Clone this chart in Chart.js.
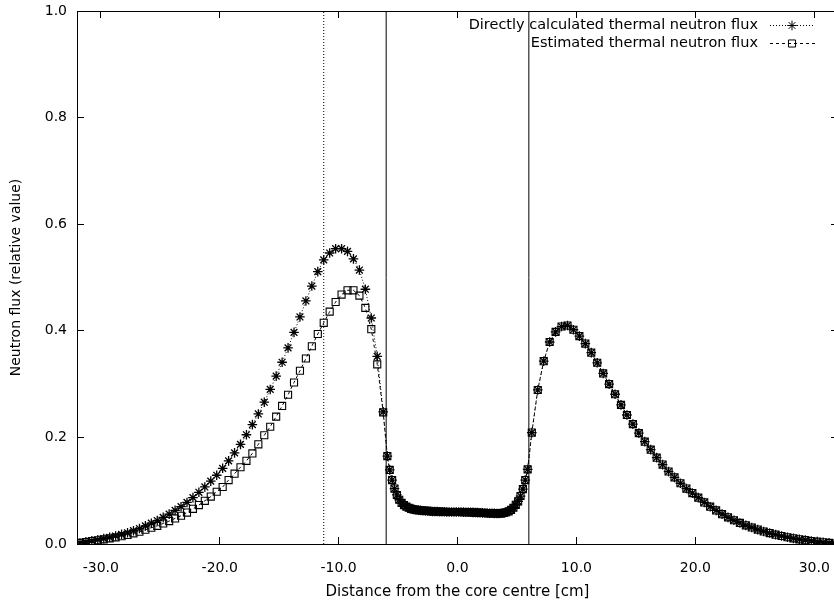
<!DOCTYPE html>
<html>
<head>
<meta charset="utf-8">
<title>Thermal neutron flux</title>
<script src="https://cdn.jsdelivr.net/npm/chart.js@4/dist/chart.umd.min.js"></script>
<style>
	html, body { margin: 0; padding: 0; background: #fff; overflow: hidden; }
	#flux-box { position: relative; width: 846px; height: 602px; }
</style>
</head>
<body>
<div id="flux-box"><canvas id="chart-flux"></canvas></div>
<script>
	// distance from the core centre [cm]: reflector left, core, reflector right
	var distanceLeft = [-31.75, -31.25, -30.75, -30.25, -29.75, -29.25, -28.75, -28.25, -27.75, -27.25,
		-26.75, -26.25, -25.75, -25.25, -24.75, -24.25, -23.75, -23.25, -22.75, -22.25,
		-21.75, -21.25, -20.75, -20.25, -19.75, -19.25, -18.75, -18.25, -17.75, -17.25,
		-16.75, -16.25, -15.75, -15.25, -14.75, -14.25, -13.75, -13.25, -12.75, -12.25,
		-11.75, -11.25, -10.75, -10.25, -9.75, -9.25, -8.75, -8.25, -7.75, -7.25, -6.75, -6.25];
	var distanceCore = [-5.9, -5.7, -5.5, -5.3, -5.1, -4.9, -4.7, -4.5, -4.3, -4.1,
		-3.9, -3.7, -3.5, -3.3, -3.1, -2.9, -2.7, -2.5, -2.3, -2.1,
		-1.9, -1.7, -1.5, -1.3, -1.1, -0.9, -0.7, -0.5, -0.3, -0.1,
		0.1, 0.3, 0.5, 0.7, 0.9, 1.1, 1.3, 1.5, 1.7, 1.9,
		2.1, 2.3, 2.5, 2.7, 2.9, 3.1, 3.3, 3.5, 3.7, 3.9,
		4.1, 4.3, 4.5, 4.7, 4.9, 5.1, 5.3, 5.5, 5.7, 5.9];
	var distanceRight = [6.25, 6.75, 7.25, 7.75, 8.25, 8.75, 9.25, 9.75, 10.25, 10.75,
		11.25, 11.75, 12.25, 12.75, 13.25, 13.75, 14.25, 14.75, 15.25, 15.75,
		16.25, 16.75, 17.25, 17.75, 18.25, 18.75, 19.25, 19.75, 20.25, 20.75,
		21.25, 21.75, 22.25, 22.75, 23.25, 23.75, 24.25, 24.75, 25.25, 25.75,
		26.25, 26.75, 27.25, 27.75, 28.25, 28.75, 29.25, 29.75, 30.25, 30.75, 31.25, 31.75];

	// left reflector: the two methods differ here
	var directLeft = [0.002, 0.004, 0.006, 0.008, 0.010, 0.0125, 0.015, 0.018, 0.021, 0.025,
		0.029, 0.034, 0.039, 0.044, 0.050, 0.056, 0.063, 0.070, 0.078, 0.087,
		0.097, 0.107, 0.118, 0.129, 0.142, 0.156, 0.171, 0.187, 0.205, 0.224,
		0.244, 0.266, 0.290, 0.315, 0.341, 0.368, 0.397, 0.426, 0.456, 0.484,
		0.511, 0.533, 0.546, 0.554, 0.554, 0.549, 0.535, 0.514, 0.478, 0.424, 0.352, 0.248];
	var estimatedLeft = [0.002, 0.0038, 0.0055, 0.0071, 0.0087, 0.0106, 0.0125, 0.0147, 0.017, 0.020,
		0.023, 0.0268, 0.0305, 0.034, 0.0385, 0.043, 0.048, 0.053, 0.059, 0.066,
		0.073, 0.081, 0.089, 0.098, 0.107, 0.120, 0.132, 0.144, 0.156, 0.170,
		0.187, 0.204, 0.220, 0.239, 0.259, 0.280, 0.303, 0.325, 0.348, 0.371,
		0.394, 0.415, 0.436, 0.454, 0.468, 0.476, 0.476, 0.466, 0.443, 0.403, 0.337, 0.247];

	// core and right reflector: both methods give the same flux
	var fluxCore = [0.165, 0.139, 0.120, 0.104, 0.092, 0.083, 0.077, 0.073, 0.070, 0.068,
		0.066, 0.065, 0.064, 0.0635, 0.063, 0.0625, 0.062, 0.062, 0.0615, 0.061,
		0.061, 0.061, 0.0605, 0.0605, 0.0605, 0.060, 0.060, 0.060, 0.060, 0.060,
		0.060, 0.060, 0.0598, 0.0597, 0.0596, 0.0595, 0.0593, 0.059, 0.0588, 0.0586,
		0.0584, 0.0582, 0.058, 0.0578, 0.0576, 0.0574, 0.0573, 0.0573, 0.0576, 0.0583,
		0.0595, 0.0613, 0.064, 0.068, 0.0735, 0.080, 0.090, 0.103, 0.120, 0.140];
	var fluxRight = [0.209, 0.289, 0.343, 0.379, 0.398, 0.408, 0.410, 0.402, 0.390, 0.376,
		0.359, 0.340, 0.320, 0.300, 0.281, 0.261, 0.242, 0.225, 0.208, 0.192,
		0.177, 0.162, 0.149, 0.136, 0.125, 0.114, 0.104, 0.0955, 0.087, 0.078,
		0.070, 0.063, 0.056, 0.050, 0.0445, 0.0395, 0.035, 0.031, 0.027, 0.0235,
		0.0205, 0.0175, 0.015, 0.0127, 0.0106, 0.0088, 0.0072, 0.0057, 0.0044, 0.0032, 0.0021, 0.001];

	var seriesLabels = ["Directly calculated thermal neutron flux", "Estimated thermal neutron flux"];
	var coreEdges = [-6.0, 6.0];
	var reflectorMark = -11.25;
	var xTickValues = [-30, -20, -10, 0, 10, 20, 30];
	var yTickValues = [0.0, 0.2, 0.4, 0.6, 0.8, 1.0];

	var FONT = "DejaVu Sans";
	var DOTTED = [1, 2];
	var DASHED = [3, 3];

	function ToPoints(xs, ys)
	{
		var pts = [];
		for (var i = 0; i < xs.length; i++)
		{
			pts.push({ x: xs[i], y: ys[i] });
		}
		return pts;
	}

	function VerticalLine(x, dash)
	{
		return {
			label: "",
			data: [{ x: x, y: 0 }, { x: x, y: 1 }],
			showLine: true,
			borderColor: "#000",
			borderWidth: 1,
			borderDash: dash,
			pointRadius: 0
		};
	}

	var allDistance = distanceLeft.concat(distanceCore, distanceRight);

	// gnuplot style key: text on the left, line sample with marker on the right
	var keyRows = [
		{ dash: DOTTED, style: "star", radius: 4.8, width: 1.3 },
		{ dash: DASHED, style: "rect", radius: 5, width: 1.1 }
	];

	var keyPlugin = {
		id: "fluxKey",
		afterDraw: function(chart)
		{
			var ctx = chart.ctx;
			ctx.save();
			ctx.font = "14.5px '" + FONT + "'";
			ctx.textAlign = "right";
			ctx.textBaseline = "middle";
			keyRows.forEach(function(row, i)
			{
				var y = 25 + i * 18;
				ctx.fillStyle = "#000";
				ctx.fillText(seriesLabels[i], 758, y);

				ctx.strokeStyle = "#000";
				ctx.lineWidth = 1;
				ctx.setLineDash(row.dash);
				ctx.beginPath();
				ctx.moveTo(770, y + 0.5);
				ctx.lineTo(815, y + 0.5);
				ctx.stroke();
				ctx.setLineDash([]);

				ctx.fillStyle = "rgba(0,0,0,0)";
				Chart.helpers.drawPoint(ctx, { pointStyle: row.style, radius: row.radius, rotation: 0, borderWidth: row.width }, 792, y + 0.5);
			});
			ctx.restore();
		}
	};

	function SetTicks(values)
	{
		return function(scale)
		{
			scale.ticks = values.map(function(v) { return { value: v }; });
		};
	}

	var tickGrid = { drawOnChartArea: false, drawTicks: true, tickLength: -7, color: "#000", lineWidth: 1 };
	var frame = { display: true, color: "#000", width: 1 };

	new Chart("chart-flux", {
		type: "scatter",
		data: {
			datasets: [
				{
					label: seriesLabels[0],
					data: ToPoints(allDistance, directLeft.concat(fluxCore, fluxRight)),
					showLine: true,
					borderColor: "#000",
					borderWidth: 1,
					borderDash: DOTTED,
					pointStyle: "star",
					pointRadius: keyRows[0].radius,
					pointBorderColor: "#000",
					pointBackgroundColor: "rgba(0,0,0,0)",
					pointBorderWidth: keyRows[0].width
				},
				{
					label: seriesLabels[1],
					data: ToPoints(allDistance, estimatedLeft.concat(fluxCore, fluxRight)),
					showLine: true,
					borderColor: "#000",
					borderWidth: 1,
					borderDash: DASHED,
					pointStyle: "rect",
					pointRadius: keyRows[1].radius,
					pointBorderColor: "#000",
					pointBackgroundColor: "rgba(0,0,0,0)",
					pointBorderWidth: keyRows[1].width
				},
				VerticalLine(reflectorMark, DOTTED),
				VerticalLine(coreEdges[0], []),
				VerticalLine(coreEdges[1], [])
			]
		},
		options: {
			responsive: true,
			maintainAspectRatio: false,
			animation: false,
			events: [],
			layout: { padding: { top: 11, right: 8, bottom: 0, left: 0 } },
			plugins: {
				legend: { display: false },
				tooltip: { enabled: false }
			},
			scales: {
				x: {
					type: "linear",
					position: "bottom",
					min: -32,
					max: 32,
					afterBuildTicks: SetTicks(xTickValues),
					afterFit: function(s) { s.height = 58; s.paddingLeft = 0; s.paddingRight = 0; },
					grid: tickGrid,
					border: frame,
					ticks: {
						color: "#000",
						font: { family: FONT, size: 14 },
						padding: 23,
						maxRotation: 0,
						callback: function(v) { return Number(v).toFixed(1); }
					},
					title: {
						display: true,
						text: "Distance from the core centre [cm]",
						color: "#000",
						font: { family: FONT, size: 15 },
						padding: { top: 0, bottom: 1 }
					}
				},
				x2: {
					type: "linear",
					axis: "x",
					position: "top",
					min: -32,
					max: 32,
					afterBuildTicks: SetTicks(xTickValues),
					afterFit: function(s) { s.height = 0; s.paddingLeft = 0; s.paddingRight = 0; },
					grid: tickGrid,
					border: frame,
					ticks: { display: false }
				},
				y: {
					type: "linear",
					position: "left",
					min: 0,
					max: 1,
					afterBuildTicks: SetTicks(yTickValues),
					afterFit: function(s) { s.width = 77; s.paddingTop = 0; s.paddingBottom = 0; },
					grid: tickGrid,
					border: frame,
					ticks: {
						color: "#000",
						font: { family: FONT, size: 14 },
						padding: 17,
						callback: function(v) { return Number(v).toFixed(1); }
					},
					title: {
						display: true,
						text: "Neutron flux (relative value)",
						color: "#000",
						font: { family: FONT, size: 14 },
						padding: { top: 8, bottom: 0 }
					}
				},
				y2: {
					type: "linear",
					axis: "y",
					position: "right",
					min: 0,
					max: 1,
					afterBuildTicks: SetTicks(yTickValues),
					afterFit: function(s) { s.width = 0; s.paddingTop = 0; s.paddingBottom = 0; },
					grid: tickGrid,
					border: frame,
					ticks: { display: false }
				}
			}
		},
		plugins: [keyPlugin]
	});
</script>
</body>
</html>
